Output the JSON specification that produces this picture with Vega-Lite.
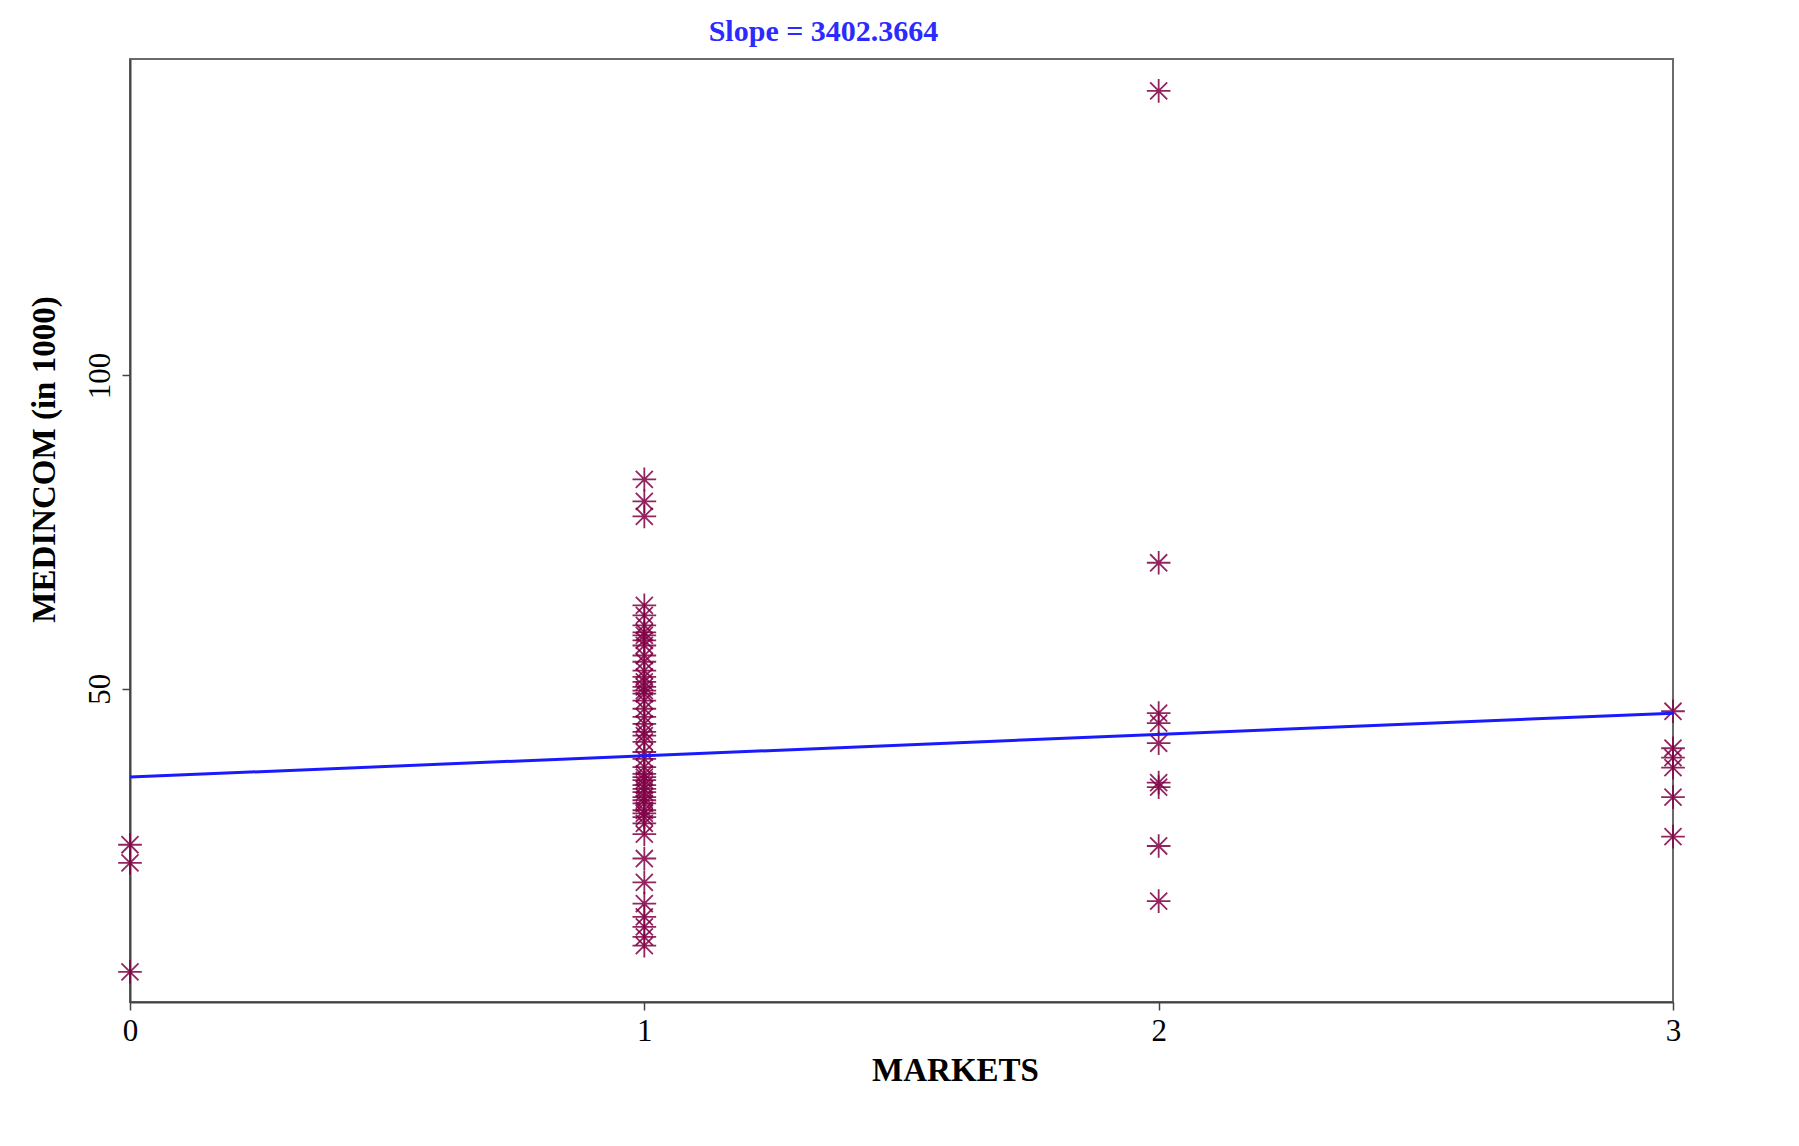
{
  "$schema": "https://vega.github.io/schema/vega-lite/v6.json",
  "autosize": {"type": "none"},
  "width": 1543,
  "height": 943,
  "padding": {"left": 130, "top": 59, "right": 126, "bottom": 144},
  "background": "white",
  "config": {
    "view": {"stroke": "#6a6a6a", "strokeWidth": 2},
    "font": "Liberation Serif"
  },
  "title": {
    "text": "Slope = 3402.3664",
    "color": "#2b2bff",
    "font": "Liberation Serif",
    "fontSize": 30,
    "fontWeight": "bold",
    "anchor": "middle",
    "frame": "group",
    "dx": -78,
    "offset": 12
  },
  "datasets": {
    "pts": [
      {"MARKETS": 0, "MEDINCOM": 25.1},
      {"MARKETS": 0, "MEDINCOM": 22.2},
      {"MARKETS": 0, "MEDINCOM": 4.8},
      {"MARKETS": 1, "MEDINCOM": 83.4},
      {"MARKETS": 1, "MEDINCOM": 79.9},
      {"MARKETS": 1, "MEDINCOM": 77.5},
      {"MARKETS": 1, "MEDINCOM": 63.3},
      {"MARKETS": 1, "MEDINCOM": 61.7},
      {"MARKETS": 1, "MEDINCOM": 60.1},
      {"MARKETS": 1, "MEDINCOM": 59.0},
      {"MARKETS": 1, "MEDINCOM": 58.5},
      {"MARKETS": 1, "MEDINCOM": 57.7},
      {"MARKETS": 1, "MEDINCOM": 56.9},
      {"MARKETS": 1, "MEDINCOM": 55.3},
      {"MARKETS": 1, "MEDINCOM": 54.3},
      {"MARKETS": 1, "MEDINCOM": 52.9},
      {"MARKETS": 1, "MEDINCOM": 51.9},
      {"MARKETS": 1, "MEDINCOM": 51.1},
      {"MARKETS": 1, "MEDINCOM": 50.3},
      {"MARKETS": 1, "MEDINCOM": 49.7},
      {"MARKETS": 1, "MEDINCOM": 49.2},
      {"MARKETS": 1, "MEDINCOM": 48.1},
      {"MARKETS": 1, "MEDINCOM": 46.8},
      {"MARKETS": 1, "MEDINCOM": 45.5},
      {"MARKETS": 1, "MEDINCOM": 44.4},
      {"MARKETS": 1, "MEDINCOM": 43.1},
      {"MARKETS": 1, "MEDINCOM": 42.5},
      {"MARKETS": 1, "MEDINCOM": 41.5},
      {"MARKETS": 1, "MEDINCOM": 39.9},
      {"MARKETS": 1, "MEDINCOM": 38.8},
      {"MARKETS": 1, "MEDINCOM": 37.5},
      {"MARKETS": 1, "MEDINCOM": 36.4},
      {"MARKETS": 1, "MEDINCOM": 35.9},
      {"MARKETS": 1, "MEDINCOM": 35.4},
      {"MARKETS": 1, "MEDINCOM": 34.6},
      {"MARKETS": 1, "MEDINCOM": 34.0},
      {"MARKETS": 1, "MEDINCOM": 33.5},
      {"MARKETS": 1, "MEDINCOM": 32.7},
      {"MARKETS": 1, "MEDINCOM": 32.2},
      {"MARKETS": 1, "MEDINCOM": 31.7},
      {"MARKETS": 1, "MEDINCOM": 30.6},
      {"MARKETS": 1, "MEDINCOM": 30.1},
      {"MARKETS": 1, "MEDINCOM": 29.5},
      {"MARKETS": 1, "MEDINCOM": 28.5},
      {"MARKETS": 1, "MEDINCOM": 26.8},
      {"MARKETS": 1, "MEDINCOM": 22.9},
      {"MARKETS": 1, "MEDINCOM": 19.1},
      {"MARKETS": 1, "MEDINCOM": 15.7},
      {"MARKETS": 1, "MEDINCOM": 13.6},
      {"MARKETS": 1, "MEDINCOM": 12.0},
      {"MARKETS": 1, "MEDINCOM": 10.4},
      {"MARKETS": 1, "MEDINCOM": 9.0},
      {"MARKETS": 2, "MEDINCOM": 145.4},
      {"MARKETS": 2, "MEDINCOM": 70.1},
      {"MARKETS": 2, "MEDINCOM": 46.1},
      {"MARKETS": 2, "MEDINCOM": 44.5},
      {"MARKETS": 2, "MEDINCOM": 41.3},
      {"MARKETS": 2, "MEDINCOM": 35.0},
      {"MARKETS": 2, "MEDINCOM": 34.3},
      {"MARKETS": 2, "MEDINCOM": 24.9},
      {"MARKETS": 2, "MEDINCOM": 16.1},
      {"MARKETS": 3, "MEDINCOM": 46.4},
      {"MARKETS": 3, "MEDINCOM": 40.5},
      {"MARKETS": 3, "MEDINCOM": 39.0},
      {"MARKETS": 3, "MEDINCOM": 37.4},
      {"MARKETS": 3, "MEDINCOM": 32.7},
      {"MARKETS": 3, "MEDINCOM": 26.4}
    ],
    "fit": [
      {"MARKETS": 0, "MEDINCOM": 35.9},
      {"MARKETS": 3, "MEDINCOM": 46.1}
    ]
  },
  "layer": [
    {
      "data": {"name": "pts"},
      "mark": {
        "type": "point",
        "shape": "M0,-1L0,1M-1,0L1,0M-0.72,-0.72L0.72,0.72M-0.72,0.72L0.72,-0.72",
        "filled": false,
        "stroke": "#800045",
        "strokeWidth": 1.8,
        "opacity": 0.85,
        "size": 560,
        "clip": false
      },
      "encoding": {
        "x": {
          "field": "MARKETS",
          "type": "quantitative",
          "scale": {"domain": [0, 3], "nice": false, "zero": false},
          "axis": {
            "title": "MARKETS",
            "values": [0, 1, 2, 3],
            "format": "d",
            "grid": false,
            "labelFlush": false,
            "domainColor": "#444",
            "domainWidth": 2,
            "tickColor": "#444",
            "tickWidth": 1.5,
            "tickSize": 8,
            "labelFont": "Liberation Serif",
            "labelFontSize": 31,
            "labelColor": "black",
            "labelPadding": 6,
            "titleFont": "Liberation Serif",
            "titleFontSize": 33,
            "titleFontWeight": "bold",
            "titleColor": "black",
            "titleX": 825,
            "titleY": 68,
            "titleAlign": "center",
            "titleBaseline": "middle"
          }
        },
        "y": {
          "field": "MEDINCOM",
          "type": "quantitative",
          "scale": {"domain": [0, 150.5], "nice": false, "zero": false},
          "axis": {
            "title": "MEDINCOM (in 1000)",
            "values": [50, 100],
            "grid": false,
            "labelFlush": false,
            "domainColor": "#444",
            "domainWidth": 2,
            "tickColor": "#444",
            "tickWidth": 1.5,
            "tickSize": 8,
            "labelFont": "Liberation Serif",
            "labelFontSize": 31,
            "labelColor": "black",
            "labelAngle": 270,
            "labelAlign": "center",
            "labelBaseline": "bottom",
            "labelPadding": 6,
            "titleFont": "Liberation Serif",
            "titleFontSize": 33,
            "titleFontWeight": "bold",
            "titleColor": "black",
            "titleAngle": 270,
            "titleX": -86,
            "titleY": 400,
            "titleAlign": "center",
            "titleBaseline": "middle"
          }
        }
      }
    },
    {
      "data": {"name": "fit"},
      "mark": {"type": "line", "color": "#1a1aff", "strokeWidth": 3},
      "encoding": {
        "x": {"field": "MARKETS", "type": "quantitative"},
        "y": {"field": "MEDINCOM", "type": "quantitative"}
      }
    }
  ]
}
